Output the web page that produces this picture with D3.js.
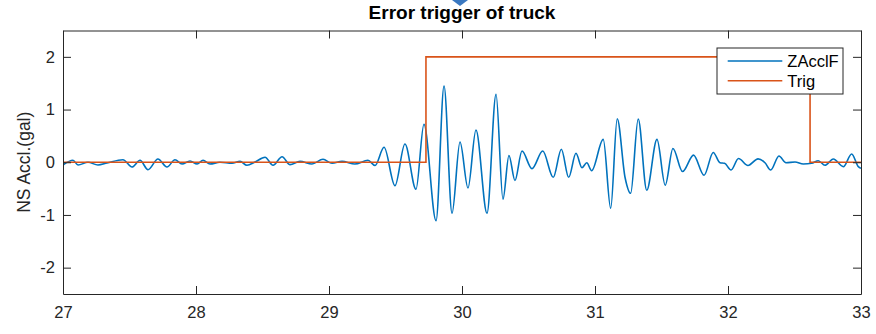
<!DOCTYPE html>
<html>
<head>
<meta charset="utf-8">
<script src="https://cdn.jsdelivr.net/npm/d3@7"></script>
<style>
  body { margin: 0; background: #fff; }
  svg { display: block; font-family: "Liberation Sans", Arial, sans-serif; }
</style>
</head>
<body>
<svg id="chart" width="876" height="334"></svg>
<script>
// ZAcclF signal (time in s, accel in gal)
const accTime = [27.000, 27.075, 27.113, 27.188, 27.263, 27.331, 27.451, 27.519, 27.579, 27.639,
    27.714, 27.782, 27.842, 27.895, 27.955, 28.008, 28.053, 28.105, 28.180, 28.271,
    28.331, 28.383, 28.444, 28.519, 28.579, 28.647, 28.707, 28.782, 28.872, 28.955,
    29.023, 29.098, 29.195, 29.293, 29.346, 29.414, 29.496, 29.571, 29.654, 29.714,
    29.805, 29.865, 29.925, 29.985, 30.045, 30.105, 30.188, 30.256, 30.308, 30.353,
    30.398, 30.451, 30.526, 30.607, 30.686, 30.747, 30.802, 30.857, 30.902, 30.938,
    30.975, 31.062, 31.118, 31.167, 31.226, 31.268, 31.325, 31.389, 31.466, 31.528,
    31.586, 31.658, 31.741, 31.820, 31.889, 31.940, 31.974, 32.023, 32.079, 32.150,
    32.226, 32.278, 32.321, 32.383, 32.436, 32.504, 32.566, 32.629, 32.679, 32.729,
    32.792, 32.867, 32.930, 32.980, 33.000];
const accValue = [-0.052, 0.037, -0.052, 0.000, -0.052, -0.014, 0.048, -0.090, 0.037, -0.141,
    0.062, -0.090, 0.048, -0.033, 0.024, -0.033, 0.037, -0.033, -0.001, -0.020,
    0.018, -0.058, 0.005, 0.094, -0.058, 0.105, -0.046, 0.018, -0.033, 0.056,
    -0.020, 0.018, -0.033, 0.037, -0.062, 0.284, -0.445, 0.346, -0.513, 0.720,
    -1.109, 1.447, -0.969, 0.384, -0.489, 0.612, -0.969, 1.289, -0.703, 0.128,
    -0.346, 0.213, -0.122, 0.213, -0.286, 0.246, -0.286, 0.170, -0.103, -0.009,
    -0.160, 0.435, -0.874, 0.826, -0.289, -0.589, 0.821, -0.532, 0.435, -0.435,
    0.261, -0.176, 0.136, -0.246, 0.185, -0.009, -0.020, -0.147, 0.071, -0.062,
    0.065, -0.009, -0.147, 0.119, -0.009, 0.005, -0.033, -0.020, 0.029, -0.058,
    0.062, -0.084, 0.157, -0.084, -0.115];

// trigger flag (step)
const trigTime = [27, 29.729, 32.617, 33];
const trigValue = [0, 2, 0, 0];

const xTicks = [27, 28, 29, 30, 31, 32, 33];
const yTicks = [-2, -1, 0, 1, 2];
const seriesNames = ["ZAcclF", "Trig"];
const seriesColors = ["#0072BD", "#D95319"];

const svg = d3.select("#chart");
const m = {left: 63, right: 861, top: 30.5, bottom: 294};

const x = d3.scaleLinear().domain([27, 33]).range([m.left, m.right]);
const y = d3.scaleLinear().domain([-2.5, 2.5]).range([m.bottom, m.top]);
const axisColor = "#262626";
const plainNum = d => String(d);  // hyphen minus like matlab, not d3's unicode one

svg.append("clipPath").attr("id", "plotclip")
    .append("rect")
    .attr("x", m.left).attr("y", m.top)
    .attr("width", m.right - m.left).attr("height", m.bottom - m.top);

const plot = svg.append("g").attr("clip-path", "url(#plotclip)");

const accData = accTime.map((t, i) => [t, accValue[i]]);
const trigData = trigTime.map((t, i) => [t, trigValue[i]]);

plot.append("path")
    .datum(accData)
    .attr("fill", "none")
    .attr("stroke", seriesColors[0])
    .attr("stroke-width", 1.6)
    .attr("d", d3.line().x(d => x(d[0])).y(d => y(d[1])).curve(d3.curveMonotoneX));

plot.append("path")
    .datum(trigData)
    .attr("fill", "none")
    .attr("stroke", seriesColors[1])
    .attr("stroke-width", 1.6)
    .attr("d", d3.line().x(d => x(d[0])).y(d => y(d[1])).curve(d3.curveStepAfter));

// axes, MATLAB style: box on, ticks pointing inward
function styleAxis(g) {
    g.selectAll("path.domain").attr("stroke", axisColor).attr("stroke-width", 1);
    g.selectAll(".tick line").attr("stroke", axisColor).attr("stroke-width", 1);
    g.selectAll(".tick text").attr("fill", axisColor).attr("font-size", 16.5)
        .attr("font-family", "'Liberation Sans', Arial, sans-serif");
}

svg.append("g")
    .attr("transform", `translate(0,${m.bottom})`)
    .call(d3.axisBottom(x).tickValues(xTicks).tickFormat(plainNum).tickSize(-8).tickSizeOuter(0).tickPadding(12))
    .call(styleAxis);

svg.append("g")
    .attr("transform", `translate(0,${m.top})`)
    .call(d3.axisTop(x).tickValues(xTicks).tickFormat("").tickSize(-8).tickSizeOuter(0))
    .call(styleAxis);

svg.append("g")
    .attr("transform", `translate(${m.left},0)`)
    .call(d3.axisLeft(y).tickValues(yTicks).tickFormat(plainNum).tickSize(-8).tickSizeOuter(0).tickPadding(8))
    .call(styleAxis);

svg.append("g")
    .attr("transform", `translate(${m.right},0)`)
    .call(d3.axisRight(y).tickValues(yTicks).tickFormat("").tickSize(-8).tickSizeOuter(0))
    .call(styleAxis);

// y label
svg.append("text")
    .attr("transform", `translate(30,${(m.top + m.bottom) / 2}) rotate(-90)`)
    .attr("text-anchor", "middle")
    .attr("font-size", 17.5)
    .attr("fill", axisColor)
    .text("NS Accl.(gal)");

// title
svg.append("text")
    .attr("x", (m.left + m.right) / 2)
    .attr("y", 18.5)
    .attr("text-anchor", "middle")
    .attr("font-size", 19)
    .attr("font-weight", "bold")
    .attr("fill", "#000")
    .text("Error trigger of truck");

// little blue marker peeking in at the top
svg.append("path")
    .attr("d", "M460,-6L468,0L460,6L452,0Z")
    .attr("fill", "#3a78c0");

// legend
const leg = svg.append("g").attr("transform", "translate(717,48)");
leg.append("rect")
    .attr("width", 126).attr("height", 46)
    .attr("fill", "#fff").attr("stroke", axisColor).attr("stroke-width", 1);

seriesNames.forEach((name, i) => {
    const row = leg.append("g").attr("transform", `translate(0,${13 + i * 19.7})`);
    row.append("line")
        .attr("x1", 10.7).attr("x2", 65.3)
        .attr("stroke", seriesColors[i]).attr("stroke-width", 1.6);
    row.append("text")
        .attr("x", 70.3).attr("dy", "0.36em")
        .attr("font-size", 16.5)
        .attr("fill", "#000")
        .text(name);
});
</script>
</body>
</html>
